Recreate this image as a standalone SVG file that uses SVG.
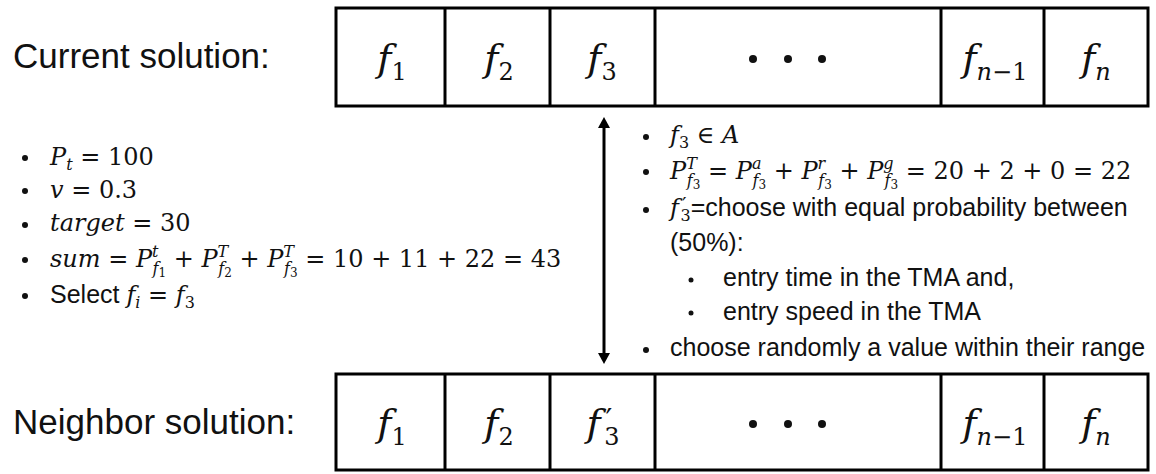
<svg xmlns="http://www.w3.org/2000/svg" width="1156" height="474" viewBox="0 0 1156 474">
<style>
  .lbl{font-family:"Liberation Sans",Arial,sans-serif;font-size:35px;fill:#111}
  .t{font-family:"Liberation Sans",Arial,sans-serif;font-size:25px;fill:#111}
  .m{font-family:"DejaVu Serif","Liberation Serif",serif;font-size:24px;fill:#111}
  .i{font-style:italic}
  .s{font-size:16px}
  .ss{font-size:12px}
  .cell{font-family:"DejaVu Serif","Liberation Serif",serif;font-size:38px;fill:#111;text-anchor:middle}
  .cs{font-size:24px}
  .pr{font-size:30px}
  .box{fill:#fff;stroke:#000;stroke-width:3}
  .div{stroke:#000;stroke-width:3}
  .dot{fill:#111}
  .conn{stroke:#000;stroke-width:3;fill:none}
</style>
<defs>
  <marker id="ah" viewBox="0 0 11 12" refX="0" refY="6" markerWidth="11" markerHeight="12" markerUnits="userSpaceOnUse" orient="auto-start-reverse">
    <path d="M0,0 L11,6 L0,12 z" fill="#000"/>
  </marker>
</defs>
<rect width="1156" height="474" fill="#fff"/>

<g id="label-current"><text class="lbl" x="13" y="68">Current solution:</text></g>
<g id="label-neighbor"><text class="lbl" x="13" y="434">Neighbor solution:</text></g>

<g id="current-solution">
  <rect class="box" x="336" y="8" width="812" height="98"/>
  <line class="div" x1="445" y1="8" x2="445" y2="106"/>
  <line class="div" x1="550" y1="8" x2="550" y2="106"/>
  <line class="div" x1="655" y1="8" x2="655" y2="106"/>
  <line class="div" x1="941" y1="8" x2="941" y2="106"/>
  <line class="div" x1="1044" y1="8" x2="1044" y2="106"/>
  <text class="cell" x="392" y="71"><tspan class="i">f</tspan><tspan class="cs" dy="9">1</tspan></text>
  <text class="cell" x="499" y="71"><tspan class="i">f</tspan><tspan class="cs" dy="9">2</tspan></text>
  <text class="cell" x="602" y="71"><tspan class="i">f</tspan><tspan class="cs" dy="9">3</tspan></text>
  <circle class="dot" cx="753" cy="59" r="4"/>
  <circle class="dot" cx="788" cy="59" r="4"/>
  <circle class="dot" cx="822" cy="59" r="4"/>
  <text class="cell" x="995" y="71"><tspan class="i">f</tspan><tspan class="cs" dy="9"><tspan class="i">n</tspan>−1</tspan></text>
  <text class="cell" x="1096" y="71"><tspan class="i">f</tspan><tspan class="cs i" dy="9">n</tspan></text>
</g>

<g id="neighbor-solution">
  <rect class="box" x="336" y="374" width="812" height="96"/>
  <line class="div" x1="445" y1="374" x2="445" y2="470"/>
  <line class="div" x1="550" y1="374" x2="550" y2="470"/>
  <line class="div" x1="655" y1="374" x2="655" y2="470"/>
  <line class="div" x1="941" y1="374" x2="941" y2="470"/>
  <line class="div" x1="1044" y1="374" x2="1044" y2="470"/>
  <text class="cell" x="392" y="436"><tspan class="i">f</tspan><tspan class="cs" dy="9">1</tspan></text>
  <text class="cell" x="499" y="436"><tspan class="i">f</tspan><tspan class="cs" dy="9">2</tspan></text>
  <text class="cell" x="603" y="436"><tspan class="i">f</tspan><tspan class="pr" dx="5" dy="-6">′</tspan><tspan class="cs" dx="-8" dy="15">3</tspan></text>
  <circle class="dot" cx="753" cy="424" r="4"/>
  <circle class="dot" cx="788" cy="424" r="4"/>
  <circle class="dot" cx="822" cy="424" r="4"/>
  <text class="cell" x="995" y="436"><tspan class="i">f</tspan><tspan class="cs" dy="9"><tspan class="i">n</tspan>−1</tspan></text>
  <text class="cell" x="1096" y="436"><tspan class="i">f</tspan><tspan class="cs i" dy="9">n</tspan></text>
</g>

<g id="connectors">
  <line class="conn" x1="604" y1="128" x2="604" y2="353" marker-start="url(#ah)" marker-end="url(#ah)"/>
</g>

<g id="left-notes">
  <circle class="dot" cx="25" cy="158" r="3"/>
  <circle class="dot" cx="25" cy="191" r="3"/>
  <circle class="dot" cx="25" cy="225" r="3"/>
  <circle class="dot" cx="25" cy="260" r="3"/>
  <circle class="dot" cx="25" cy="296" r="3"/>
  <text class="m" x="50" y="165"><tspan class="i">P</tspan><tspan class="s i" dy="5">t</tspan><tspan dy="-5"> = 100</tspan></text>
  <text class="m" x="50" y="198"><tspan class="i">v</tspan> = 0.3</text>
  <text class="m" x="50" y="231"><tspan class="i">target</tspan> = 30</text>
  <text class="m" x="50" y="267"><tspan class="i">sum</tspan> = <tspan class="i">P</tspan><tspan class="s i" dy="-10">t</tspan><tspan class="s i" dx="-6" dy="17">f</tspan><tspan class="ss" dy="3">1</tspan><tspan dy="-10"> + </tspan><tspan class="i">P</tspan><tspan class="s i" dy="-10">T</tspan><tspan class="s i" dx="-10" dy="17">f</tspan><tspan class="ss" dy="3">2</tspan><tspan dy="-10"> + </tspan><tspan class="i">P</tspan><tspan class="s i" dy="-10">T</tspan><tspan class="s i" dx="-10" dy="17">f</tspan><tspan class="ss" dy="3">3</tspan><tspan dy="-10"> = 10 + 11 + 22 = 43</tspan></text>
  <text x="50" y="303"><tspan class="t">Select </tspan><tspan class="m i">f</tspan><tspan class="m s i" dy="5">i</tspan><tspan class="m" dy="-5"> = </tspan><tspan class="m i">f</tspan><tspan class="m s" dy="5">3</tspan></text>
</g>

<g id="right-notes">
  <circle class="dot" cx="646" cy="137" r="3"/>
  <circle class="dot" cx="646" cy="172" r="3"/>
  <circle class="dot" cx="646" cy="210" r="3"/>
  <circle class="dot" cx="691" cy="280" r="2.5"/>
  <circle class="dot" cx="691" cy="313" r="2.5"/>
  <circle class="dot" cx="646" cy="350" r="3"/>
  <text class="m" x="670" y="143"><tspan class="i">f</tspan><tspan class="s" dy="5">3</tspan><tspan dy="-5"> ∈ </tspan><tspan class="i">A</tspan></text>
  <text class="m" x="670" y="179"><tspan class="i">P</tspan><tspan class="s i" dy="-10">T</tspan><tspan class="s i" dx="-10" dy="17">f</tspan><tspan class="ss" dy="3">3</tspan><tspan dy="-10"> = </tspan><tspan class="i">P</tspan><tspan class="s i" dy="-10">a</tspan><tspan class="s i" dx="-9" dy="17">f</tspan><tspan class="ss" dy="3">3</tspan><tspan dy="-10"> + </tspan><tspan class="i">P</tspan><tspan class="s i" dy="-10">r</tspan><tspan class="s i" dx="-7" dy="17">f</tspan><tspan class="ss" dy="3">3</tspan><tspan dy="-10"> + </tspan><tspan class="i">P</tspan><tspan class="s i" dy="-10">g</tspan><tspan class="s i" dx="-9" dy="17">f</tspan><tspan class="ss" dy="3">3</tspan><tspan dy="-10"> = 20 + 2 + 0 = 22</tspan></text>
  <text x="670" y="216"><tspan class="m i">f</tspan><tspan class="m" dx="3" dy="-4" style="font-size:20px">′</tspan><tspan class="m s" dx="-6" dy="9">3</tspan><tspan class="t" dy="-5">=choose with equal probability between</tspan></text>
  <text class="t" x="670" y="251">(50%):</text>
  <text class="t" x="723" y="286">entry time in the TMA and,</text>
  <text class="t" x="723" y="320">entry speed in the TMA</text>
  <text class="t" x="670" y="356">choose randomly a value within their range</text>
</g>
</svg>
